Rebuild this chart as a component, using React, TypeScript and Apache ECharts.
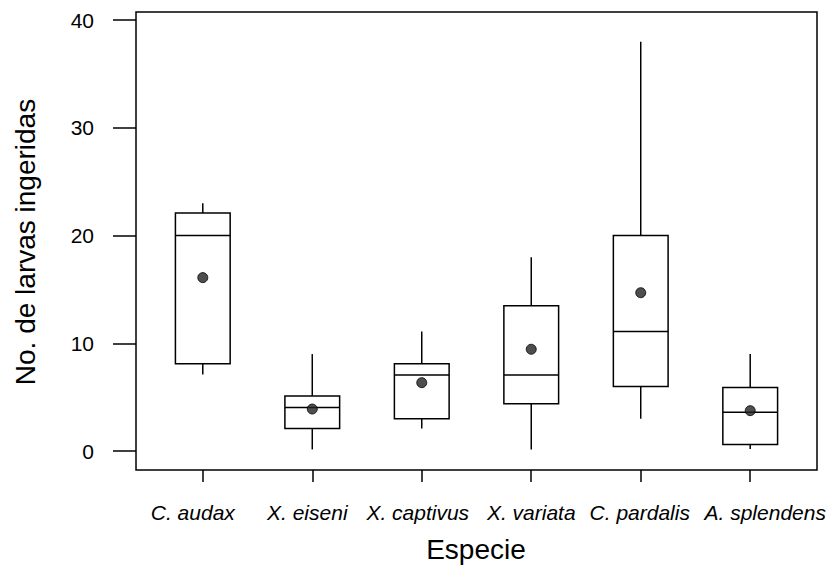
import React, { useEffect, useRef } from "react";
import * as echarts from "echarts";

const categories = ["C. audax", "X. eiseni", "X. captivus", "X. variata", "C. pardalis", "A. splendens"];
const whiskerLow = [7.1, 0.15, 2.1, 0.15, 3.0, 0.2];
const q1 = [8.1, 2.1, 3.0, 4.4, 6.0, 0.6];
const medians = [20.0, 4.05, 7.05, 7.05, 11.1, 3.6];
const q3 = [22.1, 5.1, 8.1, 13.5, 20.0, 5.9];
const whiskerHigh = [23.0, 9.0, 11.1, 18.0, 38.0, 9.0];
const means = [16.1, 3.9, 6.35, 9.45, 14.7, 3.75];
const yTicks = [0, 10, 20, 30, 40];
// horizontal nudge of each category label (px), as in the reference
const labelShift = [-10, -5, -4, 0, -1, 15];

const FONT = "'Liberation Sans', Arial, Helvetica, sans-serif";

export default function App() {
  const ref = useRef<HTMLDivElement>(null);
  useEffect(() => {
    document.body.style.margin = "0";
    const chart = echarts.init(ref.current!, null, { renderer: "svg" });
    const xPos = categories.map((_, i) => i + 1);
    const boxData = categories.map((_, i) => [xPos[i], whiskerLow[i], q1[i], medians[i], q3[i], whiskerHigh[i]]);
    const meanData = categories.map((_, i) => [xPos[i], means[i]]);
    const halfW = 0.25;
    const rich: Record<string, any> = {};
    labelShift.forEach((s, i) => {
      rich["c" + i] = {
        fontFamily: FONT,
        fontSize: 21,
        fontStyle: "italic",
        color: "#000",
        padding: s >= 0 ? [0, 0, 0, 2 * s] : [0, -2 * s, 0, 0],
      };
    });
    chart.setOption({
      animation: false,
      backgroundColor: "#fff",
      grid: {
        left: 136,
        top: 12,
        right: 13,
        bottom: 97,
        show: true,
        borderColor: "#000",
        borderWidth: 1.5,
        backgroundColor: "transparent",
      },
      xAxis: {
        type: "value",
        min: 0.39,
        max: 6.61,
        position: "bottom",
        splitLine: { show: false },
        axisLine: { show: false, onZero: false },
        axisTick: {
          show: true,
          inside: false,
          length: 12,
          customValues: xPos,
          lineStyle: { color: "#000", width: 1.5 },
        },
        axisLabel: {
          customValues: xPos,
          margin: 32,
          fontFamily: FONT,
          fontSize: 21,
          fontStyle: "italic",
          color: "#000",
          rich,
          formatter: (v: number) => {
            const i = Math.round(v) - 1;
            return categories[i] !== undefined ? `{c${i}|${categories[i]}}` : "";
          },
        },
      },
      yAxis: {
        type: "value",
        min: -1.76,
        max: 40.76,
        splitLine: { show: false },
        axisLine: { show: false, onZero: false },
        axisTick: {
          show: true,
          inside: false,
          length: 23,
          customValues: yTicks,
          lineStyle: { color: "#000", width: 1.5 },
        },
        axisLabel: {
          customValues: yTicks,
          margin: 42,
          fontFamily: FONT,
          fontSize: 21,
          color: "#000",
        },
      },
      graphic: [
        {
          type: "text",
          x: 25,
          y: 242,
          rotation: Math.PI / 2,
          style: {
            text: "No. de larvas ingeridas",
            fontFamily: FONT,
            fontSize: 28,
            fill: "#000",
            align: "center",
            verticalAlign: "middle",
          },
        },
        {
          type: "text",
          x: 476,
          y: 549,
          style: {
            text: "Especie",
            fontFamily: FONT,
            fontSize: 28,
            fill: "#000",
            align: "center",
            verticalAlign: "middle",
          },
        },
      ],
      series: [
        {
          type: "custom",
          data: boxData,
          renderItem: (params: any, api: any) => {
            const x = api.value(0);
            const lo = api.coord([x, api.value(1)]);
            const b1 = api.coord([x - halfW, api.value(2)]);
            const md = api.coord([x, api.value(3)]);
            const b3 = api.coord([x + halfW, api.value(4)]);
            const hi = api.coord([x, api.value(5)]);
            const style = { stroke: "#000", lineWidth: 1.5, fill: "none" };
            return {
              type: "group",
              children: [
                { type: "line", shape: { x1: lo[0], y1: lo[1], x2: lo[0], y2: b1[1] }, style },
                { type: "line", shape: { x1: hi[0], y1: hi[1], x2: hi[0], y2: b3[1] }, style },
                {
                  type: "rect",
                  shape: { x: b1[0], y: b3[1], width: b3[0] - b1[0], height: b1[1] - b3[1] },
                  style: { stroke: "#000", lineWidth: 1.5, fill: "#fff" },
                },
                { type: "line", shape: { x1: b1[0], y1: md[1], x2: b3[0], y2: md[1] }, style },
              ],
            };
          },
          z: 2,
        },
        {
          type: "scatter",
          data: meanData,
          symbol: "circle",
          symbolSize: 10,
          itemStyle: { color: "#222", borderColor: "#000", borderWidth: 1 },
          z: 3,
        },
      ],
    });
    return () => chart.dispose();
  }, []);
  return <div ref={ref} style={{ width: 830, height: 567 }} />;
}
